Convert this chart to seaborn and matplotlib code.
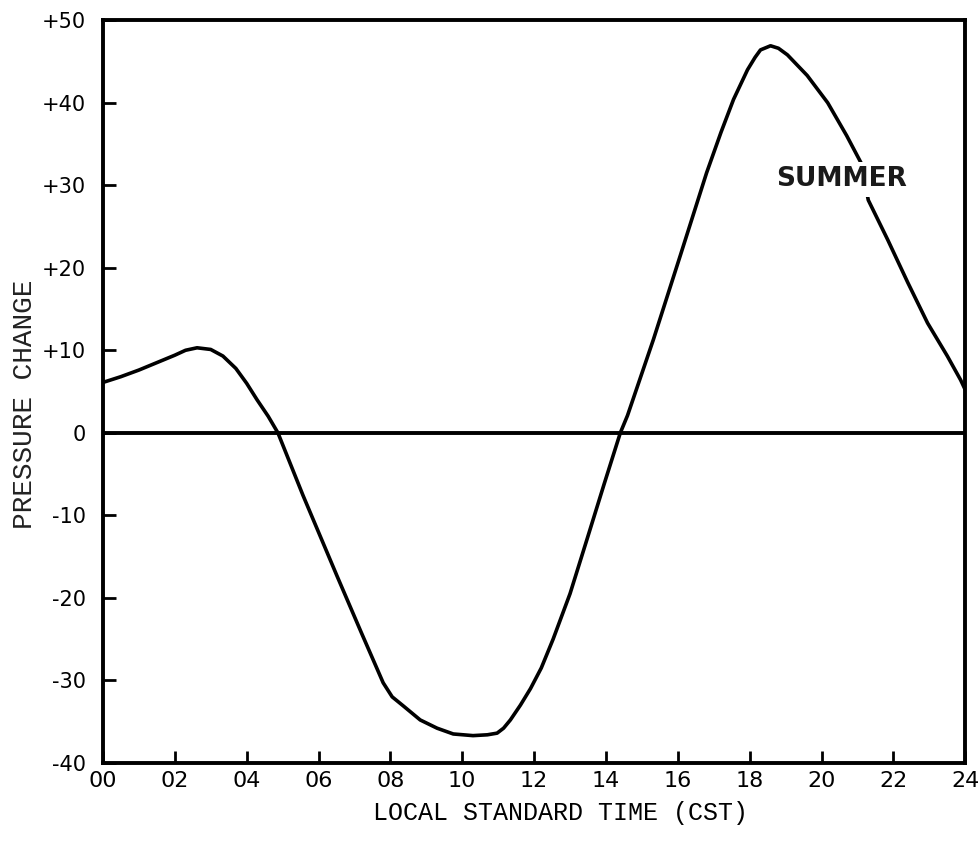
import matplotlib
matplotlib.use("Agg")
import matplotlib.pyplot as plt
import seaborn as sns
import pandas as pd

# Mean diurnal pressure change, summer (hour of day, CST)
hours = [0.0, 0.5, 1.0, 1.5, 2.0, 2.3, 2.62, 3.0, 3.34, 3.7, 4.0, 4.29, 4.6,
         4.87, 5.57, 6.52, 7.2, 7.8, 8.05, 8.36, 8.83, 9.3, 9.75, 10.3, 10.7,
         10.97, 11.15, 11.34, 11.62, 11.9, 12.2, 12.53, 13.0, 13.48, 13.95,
         14.4, 14.6, 15.32, 16.07, 16.8, 17.2, 17.55, 17.94, 18.15, 18.3,
         18.58, 18.8, 19.05, 19.6, 20.17, 20.7, 21.1, 21.3, 21.84, 22.4,
         22.95, 23.5, 23.87, 24.0]
pressure_change = [6.1, 6.8, 7.6, 8.5, 9.4, 10.0, 10.3, 10.1, 9.3, 7.8, 6.0,
                   4.0, 2.0, 0.0, -7.6, -17.4, -24.3, -30.3, -32.0, -33.1,
                   -34.8, -35.8, -36.5, -36.7, -36.6, -36.4, -35.8, -34.8,
                   -33.0, -31.0, -28.5, -25.0, -19.5, -12.8, -6.2, 0.0, 2.1,
                   11.3, 21.5, 31.5, 36.4, 40.4, 44.0, 45.5, 46.4, 46.9, 46.6,
                   45.8, 43.3, 40.0, 36.0, 32.7, 28.2, 23.4, 18.2, 13.3, 9.3,
                   6.4, 5.2]

x_ticks = list(range(0, 25, 2))
x_labels = ["00", "02", "04", "06", "08", "10", "12", "14", "16", "18",
            "20", "22", "24"]
y_ticks = list(range(-40, 51, 10))
y_labels = ["-40", "-30", "-20", "-10", "0", "+10", "+20", "+30", "+40", "+50"]

season_label = "SUMMER"
x_title = "LOCAL STANDARD TIME (CST)"
y_title = "PRESSURE CHANGE"

sns.set_theme(style="ticks")
plt.rcParams["font.family"] = ["DejaVu Sans"]

df = pd.DataFrame({"hour": hours, "change": pressure_change})

fig = plt.figure(figsize=(9.8, 8.42), dpi=100)
ax = fig.add_axes([0.105, 0.094, 0.880, 0.882])

sns.lineplot(data=df, x="hour", y="change", ax=ax, color="black",
             linewidth=2.6, sort=True, estimator=None)
for ln in ax.lines:
    ln.set_solid_joinstyle("round")
    ln.set_solid_capstyle("round")
ax.axhline(0, color="black", linewidth=2.8, zorder=1)

ax.set_xlim(0, 24)
ax.set_ylim(-40, 50)
ax.set_xticks(x_ticks)
ax.set_xticklabels(x_labels, fontsize=16)
ax.set_yticks(y_ticks)
ax.set_yticklabels(y_labels, fontsize=15)
ax.tick_params(axis="both", direction="in", length=9, width=2, colors="black")
ax.tick_params(axis="x", pad=6)
ax.tick_params(axis="y", pad=12)

for side in ["left", "right", "top", "bottom"]:
    ax.spines[side].set_visible(True)
    ax.spines[side].set_linewidth(2.8)
    ax.spines[side].set_color("black")

ax.set_xlabel("")
ax.set_ylabel("")

ax.text(20.55, 30.7, season_label, fontsize=19, fontweight="bold",
        ha="center", va="center", color="#1a1a1a",
        bbox=dict(facecolor="white", edgecolor="none", pad=3), zorder=5)

fig.text(0.572, 0.034, x_title, family="Liberation Mono", fontsize=18,
         ha="center", va="center", color="black")
fig.text(0.026, 0.52, y_title, family="Liberation Mono", fontsize=20,
         rotation=90, ha="center", va="center", color="#222222")

fig.savefig("out.png", dpi=100, facecolor="white")
